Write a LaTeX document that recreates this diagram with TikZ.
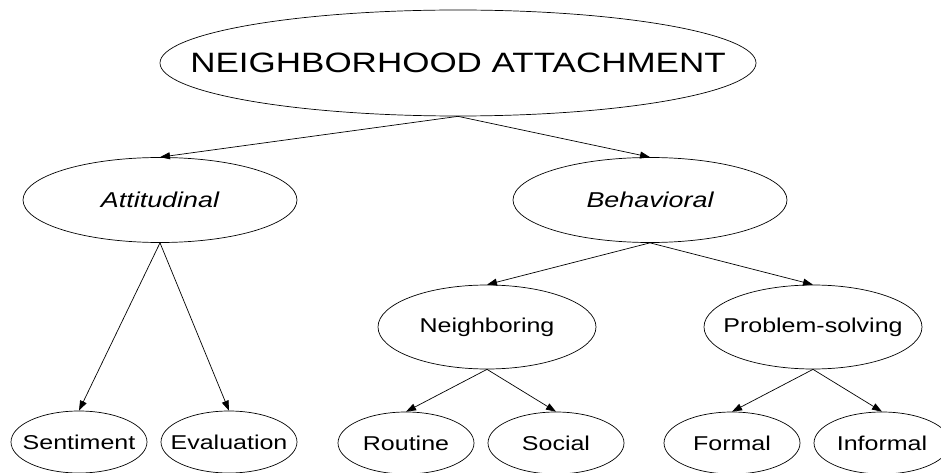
\documentclass[tikz,border=0pt]{standalone}
\usepackage{fontspec}
\setmainfont{Liberation Sans}[FakeStretch=1.25]
\usetikzlibrary{shapes.geometric,arrows.meta}

\tikzset{
  every child node/.style={ellipse, draw, inner xsep=-20pt, inner ysep=0pt},
  rootnode/.style={ellipse, draw, inner xsep=-70pt, inner ysep=0pt, minimum width=596pt, minimum height=106pt, font=\fontsize{28}{32}\selectfont},
  midnode/.style={minimum width=274pt, minimum height=85pt, xshift=-53pt, font=\fontsize{21.5}{25}\selectfont\itshape},
  subnode/.style={minimum width=218pt, minimum height=84pt, font=\fontsize{20}{24}\selectfont},
  leafnode/.style={minimum width=136pt, minimum height=62pt, xshift=-6pt, font=\fontsize{20}{24}\selectfont}
}

\begin{document}
\begin{tikzpicture}[x=1pt, y=-1pt, line width=0.7pt,
  parent anchor=south, child anchor=north,
  edge from parent/.style={draw, -{Triangle[length=10pt,width=7pt]}},
  level 1/.style={sibling distance=490pt, level distance=137pt}]
\useasboundingbox (0,0) rectangle (941,473);
\clip (0,0) rectangle (941,473);
\node [rootnode] (attach) at (458,63) {NEIGHBORHOOD ATTACHMENT}
	child {node [midnode] (att) {Attitudinal}
		child[sibling distance=150pt, level distance=242pt] {node [leafnode] (sent) {Sentiment}}
		child[sibling distance=150pt, level distance=242pt] {node [leafnode] (eval) {Evaluation}}
	}
	child {node [midnode] (beh) {Behavioral}
		child[sibling distance=326pt, level distance=127pt] {node [subnode] (neigh) {Neighboring}
			child[sibling distance=150pt, level distance=116pt] {node [leafnode] (rout) {Routine}}
			child[sibling distance=150pt, level distance=116pt] {node [leafnode] (soc) {Social}}
		}
		child[sibling distance=326pt, level distance=127pt] {node [subnode] (prob) {Problem-solving}
			child[sibling distance=150pt, level distance=116pt] {node [leafnode] (form) {Formal}}
			child[sibling distance=150pt, level distance=116pt] {node [leafnode] (inf) {Informal}}
		}
	}
;
\end{tikzpicture}
\end{document}
